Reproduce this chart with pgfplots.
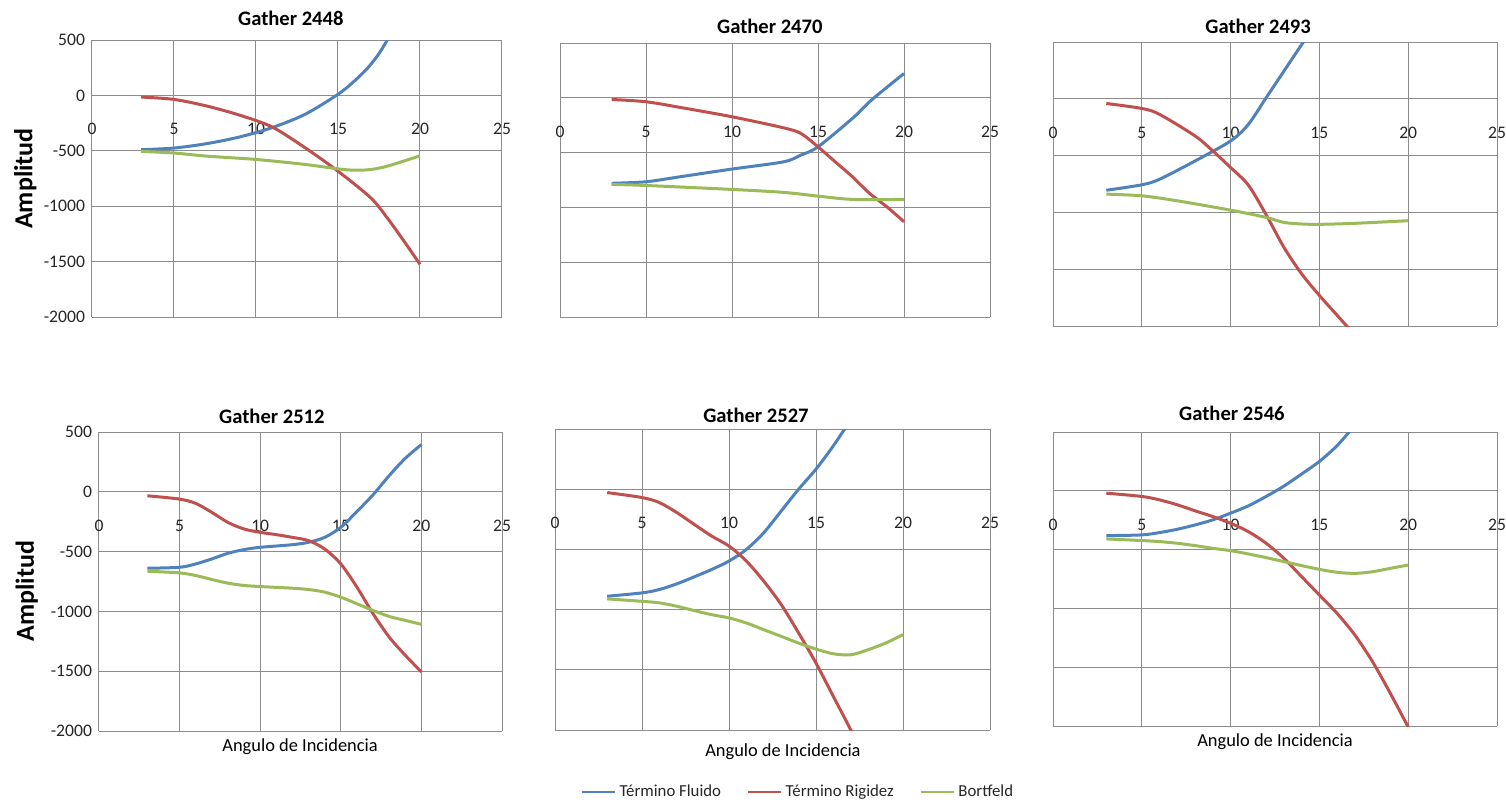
\documentclass[border=0pt]{standalone}
\usepackage{pgfplots}
\pgfplotsset{compat=1.18}
\usepackage{fontspec}
\setmainfont{Carlito}
\definecolor{cblue}{HTML}{4F81BD}
\definecolor{cred}{HTML}{C0504D}
\definecolor{cgreen}{HTML}{9BBB59}
\definecolor{gridc}{HTML}{8C8C8C}
\pgfplotsset{
 every axis title shift=0pt,
 gbase/.style={
  scale only axis, anchor=south west,
  xmin=0,xmax=25, ymin=-2000,ymax=500,
  xtick={0,5,...,25}, ytick={-2000,-1500,...,500},
  grid=major, major grid style={draw=gridc, line width=0.5pt},
  axis x line=middle, axis y line=left,
  axis line style={draw=gridc, line width=0.5pt, -},
  major tick length=0pt,
  hide obscured x ticks=false,
  hide obscured y ticks=false,
  tick label style={font=\fontsize{8.8}{10}\selectfont, text=black!85},
  /pgf/number format/assume math mode=true,
  /pgf/number format/1000 sep={},
  xticklabel style={yshift=-10.5pt},
  title style={font=\bfseries\fontsize{10.3}{12}\selectfont, anchor=center},
  xlabel style={font=\fontsize{9.2}{11}\selectfont, anchor=center},
  ylabel style={font=\bfseries\fontsize{13}{15}\selectfont, anchor=center},
 },
 noy/.style={yticklabels={}},
 fl/.style={cblue, line width=1.5pt, smooth, no marks},
 ri/.style={cred, line width=1.5pt, smooth, no marks},
 bo/.style={cgreen, line width=1.5pt, smooth, no marks},
}
\begin{document}
\begin{tikzpicture}
\useasboundingbox (0,0) rectangle (753pt,-402.5pt);
% Panel 1
\begin{axis}[gbase, at={(46pt,-158.5pt)}, width=205pt, height=138.5pt,
  title={Gather 2448}, title style={at={(axis description cs:0.485,1.079)}},
  ylabel={Amplitud}, ylabel style={at={(axis description cs:-0.163,0.5)}}]
\addplot[fl] coordinates {(3,-490)(5,-475)(7,-435)(9,-375)(11,-290)(13,-170)(15,10)(16,130)(17,280)(18,500)(20,1100)};
\addplot[ri] coordinates {(3,-15)(5,-36)(7,-96)(9,-178)(11,-286)(13,-473)(15,-684)(17,-925)(18,-1105)(19,-1310)(20,-1525)};
\addplot[bo] coordinates {(3,-505)(5,-520)(7,-548)(10,-578)(13,-623)(15,-663)(16,-675)(17,-669)(18,-639)(19,-593)(20,-545)};
\end{axis}
% Panel 2
\begin{axis}[gbase, noy, at={(280pt,-158.5pt)}, width=215pt, height=137pt,
  title={Gather 2470}, title style={at={(axis description cs:0.488,1.062)}}]
\addplot[fl] coordinates {(3,-780)(5,-766)(7,-720)(10,-650)(13,-584)(14,-523)(15,-447)(17,-188)(18,-36)(19,95)(20,222)};
\addplot[ri] coordinates {(3,-15)(5,-36)(7,-88)(10,-173)(13,-274)(14,-325)(15,-447)(16,-584)(17,-720)(18,-872)(19,-994)(20,-1131)};
\addplot[bo] coordinates {(3,-790)(5,-800)(10,-836)(13,-863)(15,-897)(17,-927)(20,-927)};
\end{axis}
% Panel 3
\begin{axis}[gbase, noy, at={(526.5pt,-163pt)}, width=222pt, height=142pt,
  title={Gather 2493}, title style={at={(axis description cs:0.462,1.056)}}]
\addplot[fl] coordinates {(3,-805)(5,-757)(6,-708)(8,-547)(10,-371)(11,-225)(12,9)(13,243)(14,477)(15,700)(16,900)(18,1300)(20,1700)};
\addplot[ri] coordinates {(3,-41)(5,-85)(6,-137)(8,-327)(9,-459)(10,-605)(11,-760)(12,-1020)(13,-1307)(14,-1541)(15,-1731)(16,-1906)(17,-2080)(20,-2600)};
\addplot[bo] coordinates {(3,-839)(5,-854)(7,-898)(10,-980)(12,-1044)(13,-1088)(14,-1102)(15,-1105)(17,-1096)(20,-1073)};
\end{axis}
% Panel 4
\begin{axis}[gbase, at={(49.5pt,-365.5pt)}, width=201.5pt, height=149.5pt,
  title={Gather 2512}, title style={at={(axis description cs:0.429,1.054)}},
  ylabel={Amplitud}, ylabel style={at={(axis description cs:-0.179,0.468)}},
  xlabel={Angulo de Incidencia}, xlabel style={at={(axis description cs:0.499,-0.054)}}]
\addplot[fl] coordinates {(3,-639)(5,-631)(6,-603)(7,-561)(8,-514)(9,-483)(10,-464)(12,-442)(13,-422)(14,-381)(15,-297)(16,-165)(17,-25)(18,135)(19,280)(20,395)};
\addplot[ri] coordinates {(3,-33)(5,-61)(6,-97)(7,-172)(8,-256)(9,-311)(10,-339)(11,-358)(12,-381)(13,-408)(14,-478)(15,-603)(16,-797)(17,-1019)(18,-1214)(19,-1367)(20,-1506)};
\addplot[bo] coordinates {(3,-664)(5,-678)(6,-700)(7,-733)(8,-764)(9,-783)(10,-792)(12,-806)(13,-817)(14,-839)(15,-881)(16,-936)(17,-992)(18,-1042)(19,-1075)(20,-1108)};
\end{axis}
% Panel 5
\begin{axis}[gbase, noy, at={(277.5pt,-365pt)}, width=217.5pt, height=150.5pt,
  title={Gather 2527}, title style={at={(axis description cs:0.462,1.047)}},
  xlabel={Angulo de Incidencia}, xlabel style={at={(axis description cs:0.524,-0.073)}},
  legend style={at={(0.561,-0.206)}, anchor=center, draw=none, fill=none,
    font=\fontsize{8.4}{10}\selectfont, text=black!85,
    /tikz/every even column/.append style={column sep=11pt}},
  legend columns=3,
  legend image code/.code={\draw[#1, line width=0.8pt] (0pt,0pt) -- (16.5pt,0pt);}]
\addplot[fl] coordinates {(3,-889)(5,-861)(6,-833)(7,-786)(8,-728)(9,-667)(10,-597)(11,-500)(12,-361)(13,-181)(14,0)(15,167)(16,361)(17,580)(18,820)(20,1400)};
\addlegendentry{Término Fluido}
\addplot[ri] coordinates {(3,-28)(5,-69)(6,-111)(7,-194)(8,-292)(9,-389)(10,-472)(11,-597)(12,-764)(13,-958)(14,-1194)(15,-1444)(16,-1722)(17,-2000)(18,-2300)(20,-2900)};
\addlegendentry{Término Rigidez}
\addplot[bo] coordinates {(3,-911)(5,-931)(6,-944)(7,-972)(8,-1008)(9,-1042)(10,-1069)(11,-1111)(12,-1167)(13,-1222)(14,-1278)(15,-1328)(16,-1367)(17,-1375)(18,-1333)(19,-1278)(20,-1208)};
\addlegendentry{Bortfeld}
\end{axis}
% Panel 6
\begin{axis}[gbase, noy, at={(526.5pt,-363pt)}, width=222pt, height=147pt,
  title={Gather 2546}, title style={at={(axis description cs:0.403,1.065)}},
  xlabel={Angulo de Incidencia}, xlabel style={at={(axis description cs:0.5,-0.054)}}]
\addplot[fl] coordinates {(3,-381)(5,-375)(6,-355)(7,-327)(8,-290)(9,-247)(10,-190)(11,-128)(12,-48)(13,40)(14,143)(15,250)(16,385)(17,560)(18,760)(20,1200)};
\addplot[ri] coordinates {(3,-20)(5,-48)(6,-77)(7,-119)(8,-170)(9,-219)(10,-276)(11,-347)(12,-446)(13,-574)(14,-730)(15,-886)(16,-1043)(17,-1227)(18,-1455)(19,-1724)(20,-2009)};
\addplot[bo] coordinates {(3,-409)(5,-423)(6,-432)(7,-446)(8,-466)(9,-489)(10,-509)(11,-537)(12,-568)(13,-602)(14,-636)(15,-668)(16,-693)(17,-702)(18,-688)(19,-659)(20,-631)};
\end{axis}
\end{tikzpicture}
\end{document}
